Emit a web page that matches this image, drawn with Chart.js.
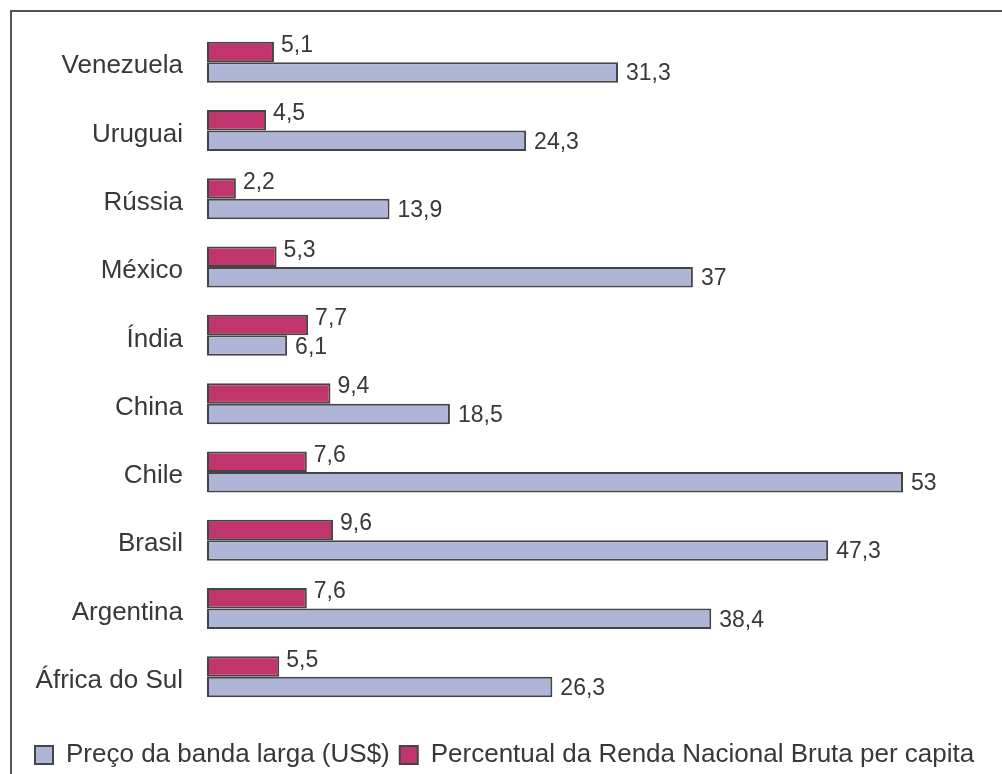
<!DOCTYPE html>
<html>
<head>
<meta charset="utf-8">
<script src="https://cdn.jsdelivr.net/npm/chart.js@4"></script>
<style>
  html, body { margin: 0; padding: 0; background: #fff; overflow: hidden; }
  #wrap { width: 1002px; height: 774px; position: relative; }
</style>
</head>
<body>
<div id="wrap"><canvas id="chart"></canvas></div>
<script>
const countries = ['Venezuela', 'Uruguai', 'Rússia', 'México', 'Índia', 'China', 'Chile', 'Brasil', 'Argentina', 'África do Sul']
const percentRenda = [5.1, 4.5, 2.2, 5.3, 7.7, 9.4, 7.6, 9.6, 7.6, 5.5]
const precoBanda = [31.3, 24.3, 13.9, 37, 6.1, 18.5, 53, 47.3, 38.4, 26.3]

const textColor = '#383838'
const fontFamily = '"Liberation Sans", Arial, sans-serif'

// frame around the whole picture
const framePlugin = {
    id: 'frame',
    beforeDraw(chart) {
        const ctx = chart.ctx
        ctx.save()
        ctx.strokeStyle = '#555'
        ctx.lineWidth = 2
        ctx.strokeRect(11, 11, 2000, 2000)
        ctx.restore()
    }
}

// value labels next to each bar end
const valueLabels = {
    id: 'valueLabels',
    afterDatasetsDraw(chart) {
        const ctx = chart.ctx
        ctx.save()
        ctx.font = '23px ' + fontFamily
        ctx.fillStyle = textColor
        ctx.textAlign = 'left'
        ctx.textBaseline = 'alphabetic'
        chart.data.datasets.forEach((ds, di) => {
            const meta = chart.getDatasetMeta(di)
            meta.data.forEach((bar, i) => {
                const txt = String(ds.data[i]).replace('.', ',')
                if (di === 0) {
                    ctx.fillText(txt, bar.x + 7, bar.y)
                } else {
                    ctx.fillText(txt, bar.x + 8, bar.y + 8)
                }
            })
        })
        ctx.restore()
    }
}

const ctx = document.getElementById('chart').getContext('2d')
const myChart = new Chart(ctx, {
    type: 'bar',
    data: {
        labels: countries,
        datasets: [{
            label: 'Percentual da Renda Nacional Bruta per capita',
            data: percentRenda,
            backgroundColor: '#C0356E',
            borderColor: '#454545',
            borderWidth: 2,
            borderSkipped: false,
            barPercentage: 1,
            categoryPercentage: 0.6
        }, {
            label: 'Preço da banda larga (US$)',
            data: precoBanda,
            backgroundColor: '#AEB5D6',
            borderColor: '#454545',
            borderWidth: 2,
            borderSkipped: false,
            barPercentage: 1,
            categoryPercentage: 0.6
        }]
    },
    options: {
        indexAxis: 'y',
        responsive: true,
        maintainAspectRatio: false,
        animation: false,
        layout: {
            padding: { left: 25, right: 0, top: 28, bottom: -4 }
        },
        scales: {
            x: {
                min: 0,
                max: 60.54,
                ticks: { display: false },
                grid: { display: false },
                border: { display: false },
                afterFit: function(scale) { scale.height = 21 }
            },
            y: {
                grid: {
                    display: true,
                    drawOnChartArea: false,
                    drawTicks: true,
                    tickLength: 12,
                    color: 'rgba(0,0,0,0)'
                },
                border: { display: false },
                ticks: {
                    color: textColor,
                    padding: 12,
                    labelOffset: 4,
                    font: { family: fontFamily, size: 26 }
                },
                afterFit: function(scale) { scale.width = 182 }
            }
        },
        plugins: {
            legend: {
                position: 'bottom',
                align: 'start',
                labels: {
                    color: textColor,
                    boxWidth: 18,
                    boxHeight: 18,
                    padding: 10,
                    font: { family: fontFamily, size: 26 },
                    sort: function(a, b) { return b.datasetIndex - a.datasetIndex }
                }
            },
            tooltip: { enabled: false }
        }
    },
    plugins: [framePlugin, valueLabels]
});
</script>
</body>
</html>
